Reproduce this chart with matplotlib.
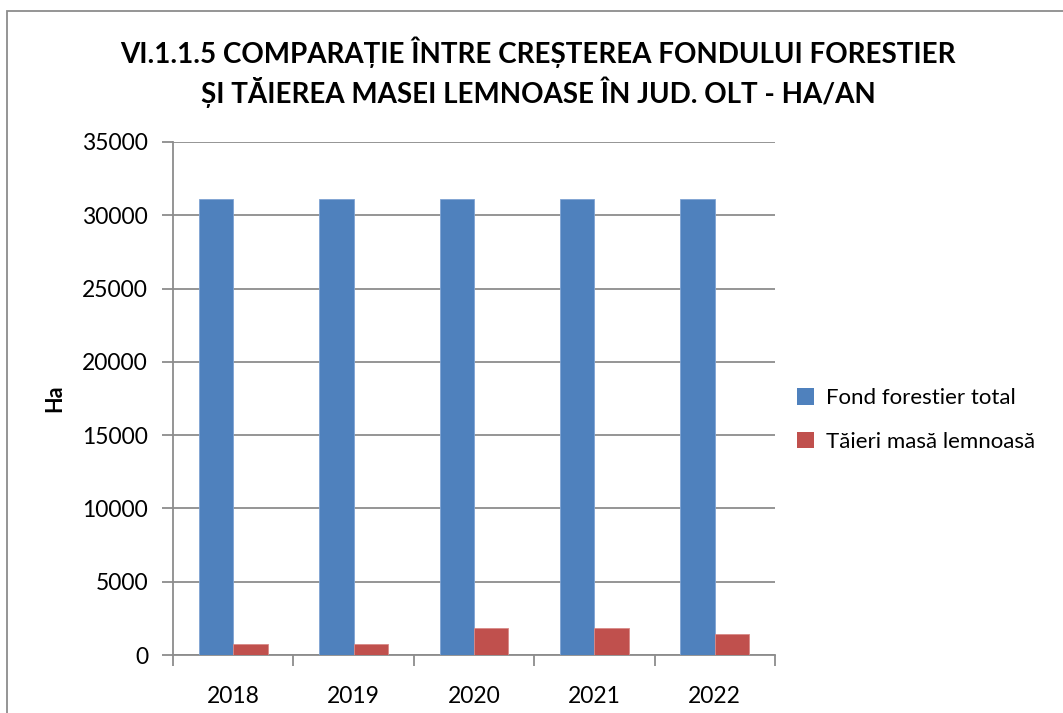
import matplotlib
matplotlib.use("Agg")
import matplotlib.pyplot as plt
import numpy as np
from matplotlib.patches import Rectangle, Patch

years = ["2018", "2019", "2020", "2021", "2022"]
fond_forestier = [31100, 31100, 31100, 31100, 31100]
taieri = [745, 745, 1830, 1830, 1420]
series_names = ["Fond forestier total", "Tăieri masă lemnoasă"]
title_lines = ["VI.1.1.5 COMPARAȚIE ÎNTRE CREȘTEREA FONDULUI FORESTIER",
               "ȘI TĂIEREA MASEI LEMNOASE ÎN JUD. OLT - HA/AN"]
y_label = "Ha"

FONT = ["Lato", "DejaVu Sans"]
plt.rcParams['font.family'] = FONT

W, H = 1063, 713
fig = plt.figure(figsize=(W / 100, H / 100), dpi=100)

# outer chart border
fig.patches.append(Rectangle((7 / W, -0.05), 1.1, 1 - 11 / H + 0.05,
                             transform=fig.transFigure, fill=False,
                             edgecolor="#8c8c8c", linewidth=1.3))

left, right, bottom, top = 173 / W, 775 / W, 1 - 655 / H, 1 - 142 / H
ax = fig.add_axes([left, bottom, right - left, top - bottom])

blue = "#4F81BD"
red = "#C0504D"
x = np.arange(len(years))
bw = 1 / 3.5
ax.bar(x - bw / 2, fond_forestier, width=bw, color=blue, edgecolor="#7fa3d3",
       linewidth=0.6, zorder=3, label=series_names[0])
ax.bar(x + bw / 2, taieri, width=bw, color=red, edgecolor="#d98a88",
       linewidth=0.6, zorder=3, label=series_names[1])

ax.set_xlim(-0.5, len(years) - 0.5)
ax.set_ylim(0, 35000)
ax.set_yticks(np.arange(0, 35001, 5000))
ax.yaxis.grid(True, color="#8c8c8c", linewidth=1.3, zorder=0)
ax.set_axisbelow(True)

for s in ["top", "right"]:
    ax.spines[s].set_visible(False)
for s in ["left", "bottom"]:
    ax.spines[s].set_color("#8c8c8c")
    ax.spines[s].set_linewidth(1.3)

# category tick marks at boundaries
ax.set_xticks(np.arange(-0.5, len(years), 1.0))
ax.set_xticklabels([])
ax.tick_params(axis="x", length=8, width=1.3, color="#8c8c8c")
ax.set_xticks(x, minor=True)
ax.set_xticklabels(years, minor=True, fontsize=16.5)
ax.tick_params(axis="x", which="minor", length=0, pad=22)
ax.tick_params(axis="y", length=8, width=1.3, color="#8c8c8c", labelsize=16.5, pad=10)

ax.set_ylabel(y_label, fontsize=15.5, fontweight="bold", labelpad=12)

fig.text(538 / W, 1 - 52 / H, title_lines[0], ha="center", va="center",
         fontsize=20, fontweight="bold")
fig.text(538 / W, 1 - 92 / H, title_lines[1], ha="center", va="center",
         fontsize=20, fontweight="bold")

handles = [Patch(facecolor=blue), Patch(facecolor=red)]
fig.legend(handles, series_names, loc="center left",
           bbox_to_anchor=(777 / W, 1 - 420 / H), frameon=False,
           fontsize=16, handlelength=0.75, handleheight=0.75,
           handletextpad=0.55, labelspacing=1.05)

fig.savefig("out.png", dpi=100)
